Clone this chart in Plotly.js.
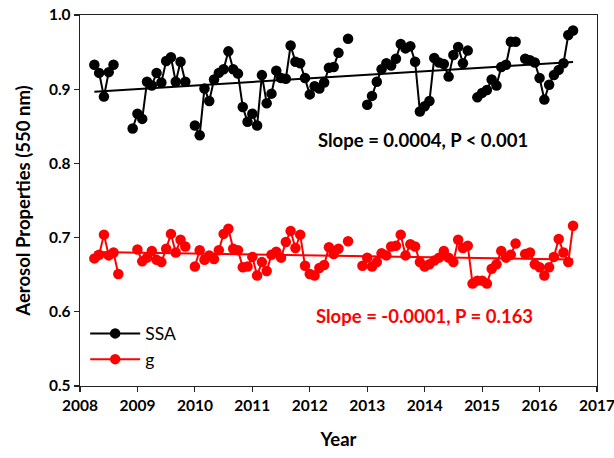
<!DOCTYPE html>
<html>
<head>
<meta charset="utf-8">
<script src="https://cdn.plot.ly/plotly-3.0.1.min.js"></script>
<style>
  html, body { margin: 0; padding: 0; background: #fff; }
  #chart { width: 614px; height: 458px; }
</style>
</head>
<body>
<div id="chart"></div>
<script>
// Monthly series starting January 2008; null marks a month with no retrieval.
const startYear = 2008;

// Single scattering albedo (SSA), 12 months per row
const ssa = [
  null, null, null, 0.933, 0.922, 0.890, 0.923, 0.933, null, null, null, 0.847,   // 2008
  0.867, 0.860, 0.910, 0.905, 0.922, 0.909, 0.938, 0.943, 0.910, 0.937, 0.910, null, // 2009
  0.851, 0.838, 0.901, 0.884, 0.913, 0.922, 0.927, 0.951, 0.927, 0.921, 0.876, 0.856, // 2010
  0.867, 0.851, 0.919, 0.881, 0.894, 0.925, 0.915, 0.914, 0.959, 0.937, 0.935, 0.915, // 2011
  0.893, 0.904, 0.901, 0.909, 0.929, 0.930, 0.949, null, 0.968, null, null, null,    // 2012
  0.879, 0.891, 0.910, 0.927, 0.935, 0.932, 0.941, 0.961, 0.955, 0.958, 0.937, 0.870, // 2013
  0.877, 0.884, 0.942, 0.936, 0.934, 0.917, 0.946, 0.957, 0.935, 0.952, null, 0.889,  // 2014
  0.895, 0.899, 0.913, 0.905, 0.930, 0.933, 0.964, 0.964, null, 0.941, 0.939, 0.936,  // 2015
  0.915, 0.886, 0.906, 0.919, 0.926, 0.935, 0.973, 0.979                              // 2016
];

// Asymmetry parameter (g)
const gParam = [
  null, null, null, 0.672, 0.677, 0.704, 0.676, 0.680, 0.651, null, null, null,      // 2008
  0.684, 0.668, 0.673, 0.682, 0.670, 0.667, 0.685, 0.705, 0.680, 0.697, 0.688, null,  // 2009
  0.661, 0.683, 0.670, 0.676, 0.671, 0.683, 0.705, 0.712, 0.685, 0.683, 0.660, 0.661, // 2010
  0.674, 0.649, 0.667, 0.655, 0.677, 0.681, 0.673, 0.694, 0.709, 0.686, 0.704, 0.662, // 2011
  0.651, 0.649, 0.659, 0.663, 0.687, 0.678, 0.685, null, 0.695, null, null, 0.662,    // 2012
  0.673, 0.661, 0.667, 0.679, 0.676, 0.688, 0.689, 0.704, 0.676, 0.691, 0.688, 0.667, // 2013
  0.661, 0.664, 0.669, 0.673, 0.682, 0.673, 0.667, 0.697, 0.686, 0.689, 0.638, 0.642, // 2014
  0.642, 0.638, 0.658, 0.664, 0.682, 0.673, 0.677, 0.692, null, 0.678, 0.680, 0.664,  // 2015
  0.660, 0.649, 0.660, 0.674, 0.698, 0.680, 0.667, 0.716                              // 2016
];

// Linear trends (per month) and their significance
const ssaSlope = 0.0004, ssaP = "P < 0.001";
const gSlope = -0.0001, gP = "P = 0.163";

const xTicks = [2008, 2009, 2010, 2011, 2012, 2013, 2014, 2015, 2016, 2017];
const yTicks = [0.5, 0.6, 0.7, 0.8, 0.9, 1.0];

const monthX = i => startYear + i / 12;
const xs = ssa.map((_, i) => monthX(i));

// Trend line with the stated slope, passing through the series mean
function trend(values, slope) {
  const idx = [], vals = [];
  values.forEach((v, i) => { if (v !== null) { idx.push(i); vals.push(v); } });
  const mi = idx.reduce((a, b) => a + b, 0) / idx.length;
  const mv = vals.reduce((a, b) => a + b, 0) / vals.length;
  const i0 = idx[0], i1 = idx[idx.length - 1];
  const f = i => mv + slope * (i - mi);
  return { x: [monthX(i0), monthX(i1)], y: [f(i0), f(i1)] };
}

const ssaTrend = trend(ssa, ssaSlope);
const gTrend = trend(gParam, gSlope);

const fontFam = "Lato, 'Open Sans', sans-serif";

const traces = [
  { x: xs, y: ssa, name: "SSA", mode: "lines+markers", connectgaps: false,
    line: { color: "#000", width: 2 }, marker: { color: "#000", size: 10.5 } },
  { x: xs, y: gParam, name: "g", mode: "lines+markers", connectgaps: false,
    line: { color: "#ff0000", width: 2 }, marker: { color: "#ff0000", size: 10.5 } },
  { x: ssaTrend.x, y: ssaTrend.y, mode: "lines", showlegend: false, hoverinfo: "skip",
    line: { color: "#000", width: 2 } },
  { x: gTrend.x, y: gTrend.y, mode: "lines", showlegend: false, hoverinfo: "skip",
    line: { color: "#ff0000", width: 2 } }
];

const axisCommon = {
  showline: true, linecolor: "#222", linewidth: 1.3, mirror: true,
  ticks: "outside", ticklen: 5, tickcolor: "#222", tickwidth: 1.2,
  showgrid: false, zeroline: false,
  tickfont: { family: fontFam, size: 15.5, color: "#000", weight: "bold" }
};

const layout = {
  width: 614, height: 458,
  margin: { l: 80, r: 17, t: 15, b: 72 },
  paper_bgcolor: "#fff", plot_bgcolor: "#fff",
  font: { family: fontFam, color: "#000" },
  showlegend: true,
  legend: {
    x: 0.01, y: 0.19, xanchor: "left", yanchor: "top",
    bgcolor: "rgba(0,0,0,0)", tracegroupgap: 0, itemwidth: 50,
    font: { family: fontFam, size: 17.5, color: "#000" }
  },
  xaxis: Object.assign({}, axisCommon, {
    range: [2008, 2017], tickmode: "array", tickvals: xTicks,
    ticktext: xTicks.map(String), ticklabeloverflow: "allow",
    title: { text: "<b>Year</b>", font: { family: fontFam, size: 18.5 }, standoff: 20 }
  }),
  yaxis: Object.assign({}, axisCommon, {
    range: [0.5, 1.0], tickmode: "array", tickvals: yTicks,
    ticktext: yTicks.map(v => v.toFixed(1)),
    title: { text: "<b>Aerosol Properties (550 nm)</b>", font: { family: fontFam, size: 18.5 }, standoff: 13 }
  }),
  annotations: [
    { xref: "paper", yref: "paper", x: 0.663, y: 0.663, xanchor: "center", yanchor: "middle",
      showarrow: false,
      text: "<b>Slope = " + ssaSlope.toFixed(4) + ", " + ssaP + "</b>",
      font: { family: fontFam, size: 18.5, color: "#000" } },
    { xref: "paper", yref: "paper", x: 0.667, y: 0.19, xanchor: "center", yanchor: "middle",
      showarrow: false,
      text: "<b>Slope = " + gSlope.toFixed(4) + ", " + gP + "</b>",
      font: { family: fontFam, size: 18.5, color: "#ff0000" } }
  ]
};

Plotly.newPlot("chart", traces, layout, { displayModeBar: false, staticPlot: true });
</script>
</body>
</html>
